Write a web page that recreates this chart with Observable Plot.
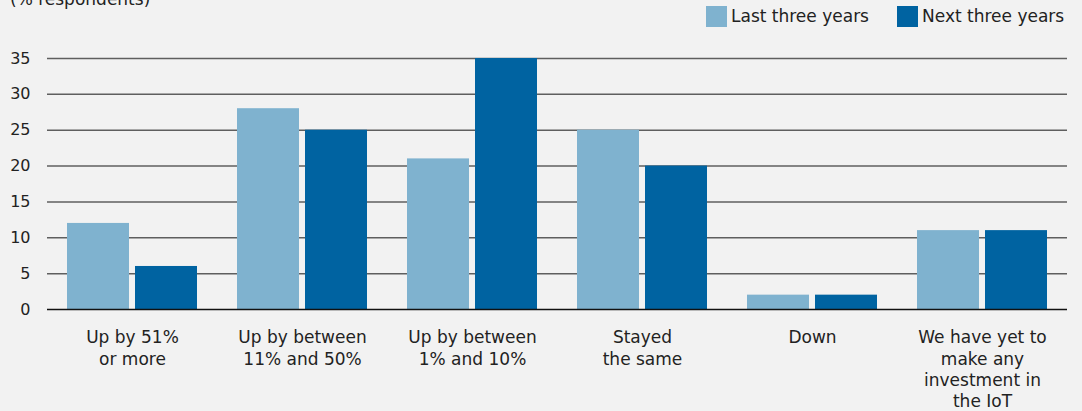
<!DOCTYPE html>
<html>
<head>
<meta charset="utf-8">
<script src="https://cdn.jsdelivr.net/npm/d3@7"></script>
<script src="https://cdn.jsdelivr.net/npm/@observablehq/plot@0.6"></script>
<style>
  html, body { margin: 0; padding: 0; background: #f2f2f2; }
  #wrap { position: relative; width: 1082px; height: 411px; overflow: hidden; background: #f2f2f2;
          font-family: "DejaVu Sans", sans-serif; color: #222; }
  #ylab { position: absolute; left: 10px; top: -11px; font-size: 17px; }
  .leg { position: absolute; top: 6px; font-size: 17px; display: flex; align-items: center; line-height: 21px; }
  .leg span.sw { display: inline-block; width: 21px; height: 21px; margin-right: 4px; }
  #chart { position: absolute; left: 0; top: 0; }
</style>
</head>
<body>
<div id="wrap">
  <div id="chart"></div>
  <div id="ylab">(% respondents)</div>
  <div class="leg" style="left:706px"><span class="sw" style="background:#7fb2cf"></span>Last three years</div>
  <div class="leg" style="left:897px"><span class="sw" style="background:#0063a1"></span>Next three years</div>
</div>
<script>
const categories = [
  "Up by 51%\nor more",
  "Up by between\n11% and 50%",
  "Up by between\n1% and 10%",
  "Stayed\nthe same",
  "Down",
  "We have yet to\nmake any\ninvestment in\nthe IoT"
];
const series = ["Last three years", "Next three years"];
const lastThreeYears = [12, 28, 21, 25, 2, 11];
const nextThreeYears = [6, 25, 35, 20, 2, 11];
const yTicks = [0, 5, 10, 15, 20, 25, 30, 35];
const colors = ["#7fb2cf", "#0063a1"];

const data = [];
categories.forEach((c, i) => {
  data.push({category: c, series: series[0], value: lastThreeYears[i]});
  data.push({category: c, series: series[1], value: nextThreeYears[i]});
});

const chart = Plot.plot({
  width: 1082,
  height: 411,
  marginTop: 58,
  marginBottom: 102,
  marginLeft: 47,
  marginRight: 15,
  style: {background: "transparent", fontFamily: "DejaVu Sans, sans-serif", fontSize: "16px", color: "#222"},
  fx: {domain: categories, padding: 0, label: null},
  x: {domain: series, axis: null, paddingInner: 0.088, paddingOuter: 0.294},
  y: {domain: [0, 35], label: null},
  color: {domain: series, range: colors},
  marks: [
    Plot.ruleY(yTicks.filter(t => t > 0), {stroke: "#5f5f5f", strokeWidth: 1.5}),
    Plot.barY(data, {fx: "category", x: "series", y: "value", fill: "series"}),
    Plot.ruleY([0], {stroke: "#111", strokeWidth: 1.5}),
    Plot.axisY({ticks: yTicks, tickSize: 0, tickPadding: 17, label: null, fontSize: 16}),
    Plot.axisFx({anchor: "bottom", tickSize: 0, tickPadding: 19, label: null, lineHeight: 1.24, fontSize: 17})
  ]
});
document.getElementById("chart").appendChild(chart);
</script>
</body>
</html>
